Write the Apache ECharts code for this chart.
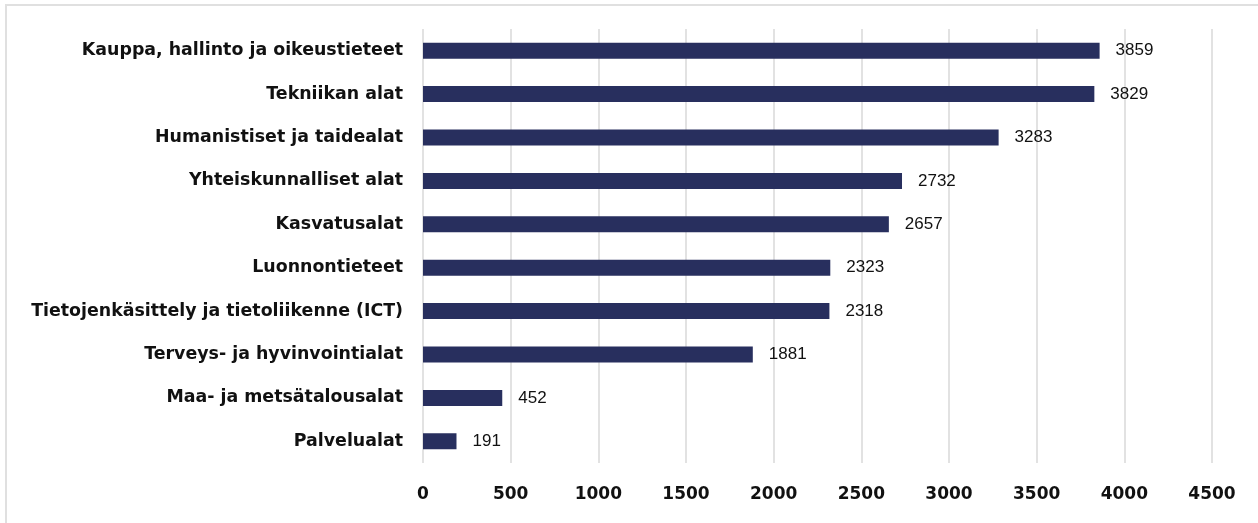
<!DOCTYPE html>
<html>
<head>
<meta charset="utf-8">
<script src="https://cdn.jsdelivr.net/npm/echarts@6/dist/echarts.min.js"></script>
<style>
html,body{margin:0;padding:0;background:#fff;}
#chart{width:1258px;height:523px;}
</style>
</head>
<body>
<div id="chart"></div>
<script>
const categories = [
  "Kauppa, hallinto ja oikeustieteet",
  "Tekniikan alat",
  "Humanistiset ja taidealat",
  "Yhteiskunnalliset alat",
  "Kasvatusalat",
  "Luonnontieteet",
  "Tietojenkäsittely ja tietoliikenne (ICT)",
  "Terveys- ja hyvinvointialat",
  "Maa- ja metsätalousalat",
  "Palvelualat"
];
const values = [3859, 3829, 3283, 2732, 2657, 2323, 2318, 1881, 452, 191];
const axisMin = 0, axisMax = 4500, axisStep = 500;

const chart = echarts.init(document.getElementById('chart'), null, {renderer: 'canvas'});
chart.setOption({
  animation: false,
  backgroundColor: '#ffffff',
  graphic: [{
    type: 'rect',
    shape: {x: 6, y: 5, width: 1400, height: 700},
    style: {fill: 'none', stroke: '#e0e0e0', lineWidth: 2},
    silent: true
  }],
  grid: {left: 423, right: 46, top: 29, bottom: 60, containLabel: false},
  xAxis: {
    type: 'value',
    min: axisMin, max: axisMax, interval: axisStep,
    axisLine: {show: false},
    axisTick: {show: false},
    splitLine: {show: true, lineStyle: {color: '#d9d9d9', width: 1.5}},
    axisLabel: {
      margin: 23,
      color: '#111',
      fontFamily: 'DejaVu Sans',
      fontWeight: 'bold',
      fontSize: 17,
      formatter: function (v) { return String(v); }
    }
  },
  yAxis: {
    type: 'category',
    data: categories,
    inverse: true,
    axisLine: {show: false},
    axisTick: {show: false},
    axisLabel: {
      margin: 20,
      color: '#111',
      fontFamily: 'DejaVu Sans',
      fontWeight: 'bold',
      fontSize: 17.4,
      padding: [3, 0, 0, 0]
    }
  },
  series: [{
    type: 'bar',
    data: values,
    barWidth: 16,
    itemStyle: {color: '#282f5e'},
    label: {
      show: true,
      position: 'right',
      distance: 16,
      color: '#111',
      fontFamily: 'Liberation Sans',
      fontSize: 17,
      formatter: function (p) { return String(p.value); }
    }
  }]
});
</script>
</body>
</html>
